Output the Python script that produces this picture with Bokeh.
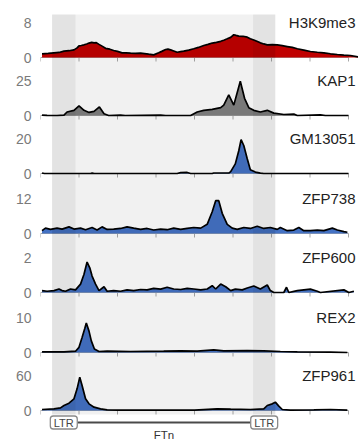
from bokeh.plotting import figure
from bokeh.models import Range1d, FixedTicker, BoxAnnotation
from bokeh.core.properties import value
from bokeh.embed import file_html
from bokeh.resources import INLINE

# ---------------- data ----------------
tracks = ["H3K9me3", "KAP1", "GM13051", "ZFP738", "ZFP600", "REX2", "ZFP961"]
track_max = [8, 25, 20, 12, 2, 10, 60]
track_colors = ["#C00000", "#808080", "#4472C4", "#4472C4", "#4472C4", "#4472C4", "#4472C4"]

h3k9me3_x = [0.04, 0.20, 0.35, 0.48, 0.61, 0.74, 0.87, 0.95, 1.00, 1.06, 1.13, 1.20, 1.26, 1.33,
             1.39, 1.45, 1.52, 1.60, 1.69, 1.80, 1.90, 2.00, 2.12, 2.22, 2.34, 2.47, 2.60, 2.70,
             2.81, 2.94, 3.07, 3.15, 3.25, 3.31, 3.38, 3.46, 3.55, 3.64, 3.72, 3.85, 3.98, 4.10,
             4.24, 4.35, 4.46, 4.57, 4.68, 4.76, 4.85, 4.94, 5.02, 5.08, 5.15, 5.26, 5.37, 5.45,
             5.54, 5.62, 5.71, 5.80, 5.89, 6.02, 6.15, 6.28, 6.41, 6.54, 6.67, 6.84, 7.01, 7.19,
             7.36, 7.53, 7.71, 7.88, 8.05, 8.27]
h3k9me3_y = [0.84, 0.95, 1.07, 1.15, 1.45, 1.55, 1.75, 2.2, 2.67, 2.75, 2.9, 3.1, 3.3, 3.45,
             3.35, 3.4, 3.0, 2.6, 2.1, 1.9, 1.6, 1.4, 1.07, 1.05, 1.0, 0.95, 1.0, 0.9,
             0.76, 0.6, 1.07, 1.4, 1.83, 1.9, 1.75, 1.5, 1.2, 1.35, 1.45, 1.7, 2.0, 2.3,
             2.75, 3.0, 3.3, 3.45, 3.7, 3.95, 4.27, 4.6, 5.2, 5.05, 4.9, 4.85, 4.65, 4.3,
             4.0, 3.7, 3.35, 3.1, 2.9, 2.95, 2.9, 2.7, 2.5, 2.3, 2.0, 1.7, 1.37, 1.2,
             1.07, 0.85, 0.69, 0.55, 0.46, 0.08]

kap1_x = [0.04, 0.17, 0.43, 0.61, 0.69, 0.87, 1.00, 1.13, 1.26, 1.39, 1.53, 1.65, 1.77, 2.08,
          2.20, 3.12, 3.25, 3.90, 4.07, 4.24, 4.46, 4.68, 4.76, 4.89, 5.02, 5.19, 5.30, 5.41,
          5.54, 5.71, 5.89, 6.06, 6.32, 6.58, 6.67, 7.27, 7.40, 8.00]
kap1_y = [0.3, 0.1, 0.0, 0.3, 2.5, 3.7, 6.9, 3.7, 2.2, 2.9, 6.1, 1.2, 0.0, 0.3,
          0.0, 0.3, 0.0, 0.0, 2.5, 3.7, 4.4, 5.6, 7.4, 14.7, 7.4, 24.5, 12.3, 5.6,
          3.7, 2.5, 3.7, 1.7, 0.7, 1.0, 0.0, 0.5, 0.0, 0.0]

gm13051_x = [0.04, 0.10, 1.30, 1.34, 1.40, 3.55, 3.64, 3.81, 3.90, 4.46, 4.50, 4.90, 4.94,
             5.06, 5.15, 5.21, 5.28, 5.37, 5.45, 5.58, 5.71, 5.80, 8.00]
gm13051_y = [0.3, 0.0, 0.0, 0.2, 0.0, 0.0, 0.5, 0.6, 0.0, 0.0, 0.3, 0.4, 1.1,
             5.5, 13.0, 19.4, 16.0, 8.4, 2.1, 0.8, 0.2, 0.0, 0.0]

zfp738_x = [0.04, 0.13, 0.26, 0.43, 0.56, 0.74, 0.87, 1.04, 1.17, 1.34, 1.47, 1.60, 1.73, 1.90,
            2.08, 2.25, 2.42, 2.60, 2.77, 2.94, 3.12, 3.29, 3.46, 3.64, 3.81, 3.98, 4.16, 4.33,
            4.46, 4.55, 4.63, 4.72, 4.85, 4.98, 5.11, 5.28, 5.45, 5.63, 5.80, 5.97, 6.15, 6.23,
            6.41, 6.58, 6.71, 6.84, 7.01, 7.19, 7.36, 7.58, 7.71, 7.88, 7.97]
zfp738_y = [0.97, 1.84, 1.41, 1.84, 1.51, 2.27, 1.51, 1.84, 1.30, 2.05, 1.19, 2.27, 1.41, 1.51,
            1.73, 2.27, 1.84, 1.41, 1.73, 1.19, 1.51, 1.30, 1.84, 1.41, 1.73, 2.05, 1.84, 3.14,
            7.46, 11.24, 11.24, 6.92, 3.14, 1.84, 1.41, 2.05, 1.73, 2.49, 1.73, 2.05, 1.41, 2.05,
            0.97, 1.19, 2.05, 0.97, 0.97, 1.19, 0.97, 1.84, 1.19, 0.65, 0.43]

zfp600_x = [0.04, 0.17, 0.35, 0.48, 0.56, 0.65, 0.78, 0.91, 1.04, 1.13, 1.21, 1.28, 1.34, 1.43,
            1.52, 1.65, 1.73, 1.90, 2.08, 2.25, 2.42, 2.60, 2.77, 2.94, 3.12, 3.29, 3.46, 3.64,
            3.81, 3.98, 4.16, 4.33, 4.46, 4.55, 4.68, 4.81, 4.94, 5.06, 5.24, 5.37, 5.54, 5.71,
            5.89, 5.97, 6.06, 6.32, 6.39, 6.45, 6.67, 6.84, 7.01, 7.19, 7.27, 7.88, 8.01, 8.14]
zfp600_y = [0.11, 0.07, 0.11, 0.20, 0.11, 0.07, 0.20, 0.15, 0.48, 1.04, 1.74, 1.41, 0.94, 0.48,
            0.11, 0.33, 0.07, 0.11, 0.07, 0.15, 0.11, 0.17, 0.15, 0.24, 0.19, 0.30, 0.20, 0.17,
            0.24, 0.20, 0.15, 0.20, 0.39, 0.20, 0.48, 0.33, 0.11, 0.19, 0.15, 0.26, 0.37, 0.20,
            0.43, 0.11, 0.0, 0.0, 0.30, 0.0, 0.11, 0.15, 0.19, 0.07, 0.0, 0.15, 0.0, 0.07]

rex2_x = [0.04, 0.61, 0.91, 1.00, 1.08, 1.15, 1.19, 1.26, 1.32, 1.40, 1.52, 1.73, 2.34, 3.20,
          3.64, 4.07, 4.50, 4.76, 5.37, 5.80, 6.23, 6.67, 7.53, 7.97]
rex2_y = [0.19, 0.19, 0.37, 1.48, 4.26, 6.85, 8.43, 6.11, 3.33, 1.02, 0.28, 0.37, 0.28, 0.37,
          0.46, 0.37, 0.74, 0.46, 0.56, 0.46, 0.28, 0.19, 0.09, 0.0]

zfp961_x = [0.04, 0.35, 0.52, 0.61, 0.74, 0.87, 0.95, 1.02, 1.08, 1.17, 1.26, 1.39, 1.56, 1.73,
            1.99, 3.00, 4.00, 4.59, 4.94, 5.45, 5.80, 5.89, 6.02, 6.10, 6.19, 6.28, 6.49, 7.10,
            7.53, 7.97]
zfp961_y = [1.71, 2.86, 4.57, 8.57, 12.57, 20.0, 37.1, 57.1, 42.9, 20.0, 11.43, 5.71, 2.86, 1.14,
            0.57, 0.57, 0.8, 2.86, 2.29, 1.71, 2.86, 8.57, 11.43, 14.29, 7.43, 1.71, 0.57, 1.14,
            1.71, 0.57]

track_x = [h3k9me3_x, kap1_x, gm13051_x, zfp738_x, zfp600_x, rex2_x, zfp961_x]
track_y = [h3k9me3_y, kap1_y, gm13051_y, zfp738_y, zfp600_y, rex2_y, zfp961_y]

x_ticks = [0, 1, 2, 3, 4, 5, 6, 7, 8]
ltr_regions = [(0.30, 0.91), (5.52, 6.10)]
ltr_label = "LTR"
element_name = "FTn"

# ---------------- layout ----------------
W, H = 358, 443
FRAME_LEFT = 40
PX_PER_KB = 38.5
X_END = (W - FRAME_LEFT) / PX_PER_KB
BASE_PX = [57, 115, 173, 233, 292, 352, 410]
TRACK_H = 35
FONT = "Liberation Sans"

p = figure(width=W, height=H, output_backend="svg", toolbar_location=None,
           x_range=Range1d(0, X_END), y_range=Range1d(-H, 0),
           x_axis_location=None, y_axis_location="left",
           min_border=0, min_border_left=FRAME_LEFT, min_border_right=0,
           min_border_top=0, min_border_bottom=0,
           outline_line_color=None, background_fill_color="white",
           border_fill_color="white")
p.grid.visible = False

# per-track value ranges
extra = {}
for i, (m, b) in enumerate(zip(track_max, BASE_PX)):
    extra[f"t{i}"] = Range1d(start=-(H - b) / TRACK_H * m, end=b / TRACK_H * m)
p.extra_y_ranges = extra

# baselines and tick marks
x_lo, x_hi = x_ticks[0], x_ticks[-1]
p.segment(x0=[x_lo] * len(BASE_PX), x1=[x_hi] * len(BASE_PX),
          y0=[-b for b in BASE_PX], y1=[-b for b in BASE_PX],
          line_color="#a8a8a8", line_width=1)
tx, ty0, ty1 = [], [], []
for b in BASE_PX:
    for t in x_ticks:
        tx.append(t); ty0.append(-b); ty1.append(-b - 4)
p.segment(x0=tx, x1=tx, y0=ty0, y1=ty1, line_color="#a8a8a8", line_width=1)

# signals
for i, (xs, ys, c) in enumerate(zip(track_x, track_y, track_colors)):
    rn = f"t{i}"
    p.varea(x=xs, y1=[0] * len(xs), y2=ys, fill_color=c, y_range_name=rn)
    p.line(x=xs, y=ys, line_color="black", line_width=1.7, y_range_name=rn)

# shading overlay (LTR-to-LTR element, darker LTRs)
shade_top, shade_bottom = -14, -414
p.add_layout(BoxAnnotation(left=ltr_regions[0][0], right=ltr_regions[-1][1],
                           top=shade_top, bottom=shade_bottom,
                           fill_color="black", fill_alpha=0.055, line_color=None))
for a, b in ltr_regions:
    p.add_layout(BoxAnnotation(left=a, right=b, top=shade_top, bottom=shade_bottom,
                               fill_color="black", fill_alpha=0.055, line_color=None))

# y tick labels
ticks, overrides = [], {}
for b, m in zip(BASE_PX, track_max):
    ticks += [-b, -(b - TRACK_H)]
    overrides[-b] = "0"
    overrides[-(b - TRACK_H)] = str(m)
ax = p.yaxis[0]
ax.ticker = FixedTicker(ticks=ticks, minor_ticks=[])
ax.major_label_overrides = overrides
ax.axis_line_color = None
ax.major_tick_line_color = None
ax.minor_tick_line_color = None
ax.major_tick_out = 0
ax.major_tick_in = 0
ax.major_label_standoff = 9
ax.major_label_text_color = "#7a7a7a"
ax.major_label_text_font = FONT
ax.major_label_text_font_size = "14px"

# track names
label_x = X_END - 3 / PX_PER_KB
p.text(x=[label_x] * len(tracks), y=[-(b - TRACK_H) for b in BASE_PX], text=tracks,
       text_font=value(FONT), text_font_size="15px", text_color="#222222",
       text_align="right", text_baseline="middle")

# LTR element diagram
box_half = 0.35
centers = [(a + b) / 2 for a, b in ltr_regions]
diag_y = -422
p.segment(x0=[centers[0] + box_half], x1=[centers[1] - box_half], y0=[diag_y], y1=[diag_y],
          line_color="#4a4a4a", line_width=2)
p.quad(left=[c - box_half for c in centers], right=[c + box_half for c in centers],
       top=[diag_y + 6.5] * 2, bottom=[diag_y - 6.5] * 2,
       fill_color="white", line_color="#8a8a8a", line_width=1.3, border_radius=3)
p.text(x=centers, y=[diag_y] * 2, text=[ltr_label] * 2, text_font=value(FONT),
       text_font_size="11px", text_color="#444444", text_align="center",
       text_baseline="middle")
p.text(x=[(centers[0] + centers[1]) / 2], y=[diag_y - 6.5], text=[element_name],
       text_font=value(FONT), text_font_size="11.5px", text_color="#333333",
       text_align="center", text_baseline="top")

open("out.html", "w").write(file_html(p, INLINE))
